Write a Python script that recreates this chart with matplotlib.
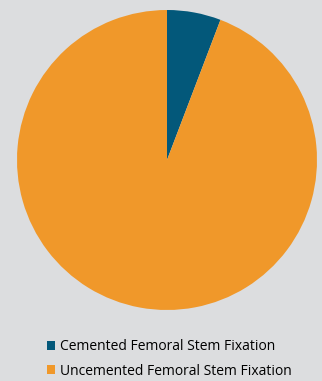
import matplotlib
matplotlib.use('Agg')
import matplotlib.pyplot as plt
from matplotlib.patches import Patch

# Share of femoral stem fixation type (%)
labels = ["Cemented Femoral Stem Fixation", "Uncemented Femoral Stem Fixation"]
values = [5.8, 94.2]
colors = ["#03587a", "#f0982a"]

bg = "#dcdddf"
fig = plt.figure(figsize=(3.22, 3.81), dpi=100, facecolor=bg)

# pie occupies the upper part of the figure
ax = fig.add_axes([17 / 322, 1 - 310 / 381, 300 / 322, 300 / 381])
ax.set_facecolor(bg)
ax.pie(values, colors=colors, startangle=90, counterclock=False,
       wedgeprops=dict(linewidth=0), radius=1)
ax.set_xlim(-1, 1)
ax.set_ylim(-1, 1)
ax.set_aspect('equal')
ax.axis('off')

handles = [Patch(facecolor=c, edgecolor='none') for c in colors]
fig.legend(handles, labels, loc='upper left', bbox_to_anchor=(47 / 322, 1 - 339 / 381),
           frameon=False, prop={'family': 'Open Sans', 'size': 10},
           handlelength=0.6, handleheight=0.6, handletextpad=0.3,
           labelspacing=0.7, borderaxespad=0, borderpad=0)

fig.savefig("out.png", dpi=100, facecolor=bg)
